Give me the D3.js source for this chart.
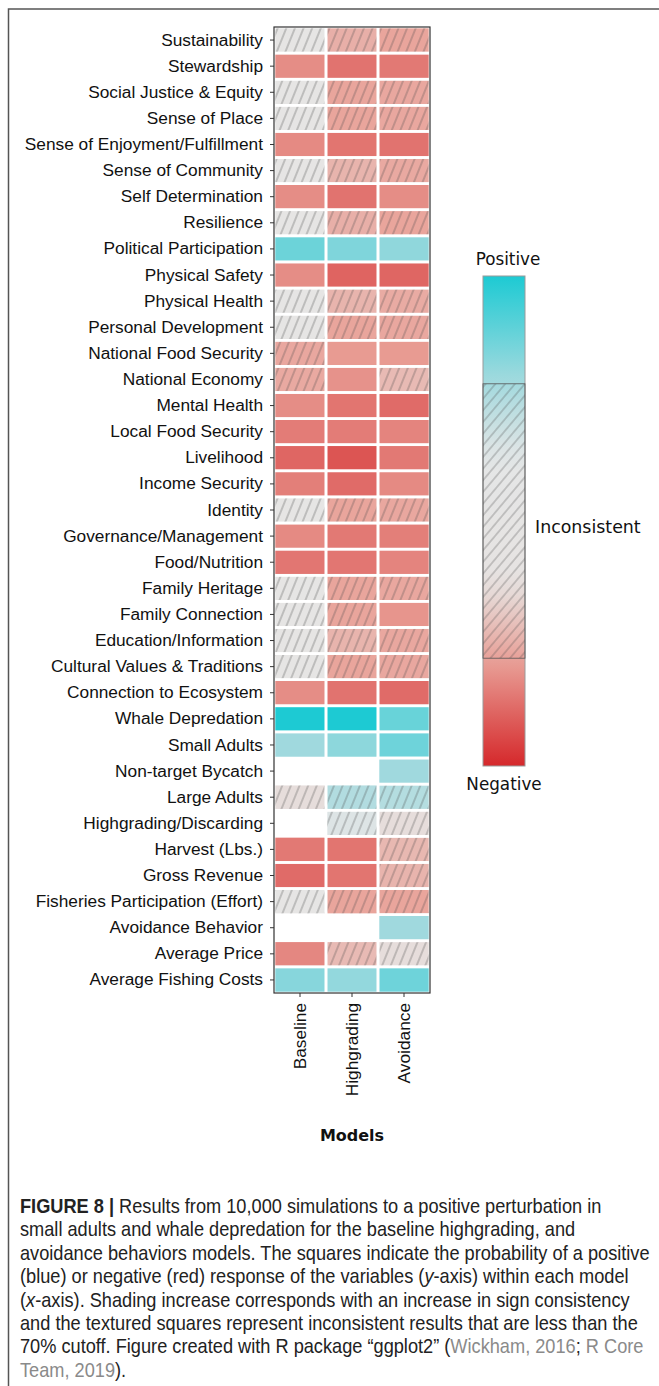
<!DOCTYPE html>
<html><head><meta charset="utf-8">
<script src="https://cdn.jsdelivr.net/npm/d3@7"></script>
<style>body{margin:0;background:#fff;} svg{display:block;}</style>
</head><body>
<script>
// ---- data ----
const variables = [
  "Sustainability","Stewardship","Social Justice & Equity","Sense of Place",
  "Sense of Enjoyment/Fulfillment","Sense of Community","Self Determination","Resilience",
  "Political Participation","Physical Safety","Physical Health","Personal Development",
  "National Food Security","National Economy","Mental Health","Local Food Security",
  "Livelihood","Income Security","Identity","Governance/Management","Food/Nutrition",
  "Family Heritage","Family Connection","Education/Information","Cultural Values & Traditions",
  "Connection to Ecosystem","Whale Depredation","Small Adults","Non-target Bycatch",
  "Large Adults","Highgrading/Discarding","Harvest (Lbs.)","Gross Revenue",
  "Fisheries Participation (Effort)","Avoidance Behavior","Average Price","Average Fishing Costs"
];
const models = ["Baseline","Highgrading","Avoidance"];
// signed sign-consistency: -1 = all negative, +1 = all positive, null = not in model
const baseline = [
  0, -0.64, 0, 0, -0.65, 0, -0.64, 0, 0.745, -0.64, 0, 0,
  -0.54, -0.53, -0.64, -0.70, -0.78, -0.69, 0, -0.65, -0.72,
  0, 0, 0, 0, -0.64, 1.0, 0.58, null, -0.28, null, -0.71, -0.76,
  0, null, -0.66, 0.66
];
const highgrading = [
  -0.50, -0.73, -0.55, -0.55, -0.725, -0.48, -0.73, -0.50, 0.685, -0.785, -0.48, -0.55,
  -0.59, -0.62, -0.725, -0.70, -0.84, -0.76, -0.55, -0.71, -0.72,
  -0.55, -0.55, -0.48, -0.55, -0.73, 1.0, 0.64, null, 0.50, 0.29, -0.725, -0.725,
  -0.55, null, -0.45, 0.62
];
const avoidance = [
  -0.55, -0.71, -0.54, -0.54, -0.73, -0.53, -0.64, -0.55, 0.63, -0.78, -0.52, -0.54,
  -0.59, -0.45, -0.76, -0.67, -0.71, -0.65, -0.54, -0.69, -0.67,
  -0.54, -0.61, -0.54, -0.54, -0.76, 0.76, 0.74, 0.58, 0.49, -0.28, -0.46, -0.48,
  -0.55, 0.58, -0.28, 0.74
];
const legendLabels = ["Positive","Inconsistent","Negative"];
const axisTitle = "Models";
const cutoff = 0.56;
const colorStops = [-1, -0.56, -0.25, 0.25, 0.56, 1];
const colorRange = ["#d5282b", "#e9a39a", "#e6e3e2", "#e5e6e6", "#a6dade", "#1dcad3"];

// ---- layout ----
const W = 659, H = 1386;
const svg = d3.select("body").append("svg").attr("width", W).attr("height", H);

const defs = svg.append("defs");
const hatch = defs.append("pattern").attr("id", "hatch")
  .attr("patternUnits", "userSpaceOnUse").attr("width", 8).attr("height", 8)
  .attr("patternTransform", "rotate(22)");
hatch.append("line").attr("x1", 4).attr("y1", -1).attr("x2", 4).attr("y2", 9)
  .attr("stroke", "#4a4a4a").attr("stroke-width", 0.65).attr("stroke-opacity", 0.8);
const hatchL = defs.append("pattern").attr("id", "hatchL")
  .attr("patternUnits", "userSpaceOnUse").attr("width", 7.5).attr("height", 7.5)
  .attr("patternTransform", "rotate(40)");
hatchL.append("line").attr("x1", 3.75).attr("y1", -1).attr("x2", 3.75).attr("y2", 9)
  .attr("stroke", "#4a4a4a").attr("stroke-width", 0.6).attr("stroke-opacity", 0.8);

// outer frame
svg.append("rect").attr("x", 8.5).attr("y", 9).attr("width", W + 20).attr("height", H + 20)
  .attr("fill", "none").attr("stroke", "#555").attr("stroke-width", 1.5);

const color = d3.scaleLinear().domain(colorStops).range(colorRange)
  .interpolate(d3.interpolateRgb).clamp(true);

const x = d3.scaleBand().domain(models).range([274, 430]).padding(0);
const y = d3.scaleBand().domain(variables).range([27, 993]).padding(0);

const series = [baseline, highgrading, avoidance];
const cells = variables.flatMap((v, i) => models.map((m, j) => ({variable: v, model: m, value: series[j][i]})))
  .filter(d => d.value !== null);

const g = svg.append("g");
g.selectAll("rect.fill").data(cells).join("rect").attr("class", "fill")
  .attr("x", d => x(d.model)).attr("y", d => y(d.variable))
  .attr("width", x.bandwidth()).attr("height", y.bandwidth())
  .attr("fill", d => color(d.value));
g.selectAll("rect.hatch").data(cells.filter(d => Math.abs(d.value) < cutoff)).join("rect").attr("class", "hatch")
  .attr("x", d => x(d.model)).attr("y", d => y(d.variable))
  .attr("width", x.bandwidth()).attr("height", y.bandwidth())
  .attr("fill", "url(#hatch)");
g.selectAll("rect.edge").data(cells).join("rect").attr("class", "edge")
  .attr("x", d => x(d.model)).attr("y", d => y(d.variable))
  .attr("width", x.bandwidth()).attr("height", y.bandwidth())
  .attr("fill", "none").attr("stroke", "#fff").attr("stroke-width", 2.6);

// panel border
svg.append("rect").attr("x", 274).attr("y", 27).attr("width", 156).attr("height", 966)
  .attr("fill", "none").attr("stroke", "#333").attr("stroke-width", 1.2);

// axes
const yAxis = svg.append("g").attr("transform", "translate(274,0)")
  .call(d3.axisLeft(y).tickSize(4).tickPadding(7));
yAxis.select(".domain").remove();
yAxis.selectAll("line").attr("stroke", "#333");
yAxis.selectAll("text").attr("font-family", "Liberation Sans, Arial, sans-serif")
  .attr("font-size", 17.3).attr("fill", "#111");

const xAxis = svg.append("g").attr("transform", "translate(0,993)")
  .call(d3.axisBottom(x).tickSize(4).tickPadding(0));
xAxis.select(".domain").remove();
xAxis.selectAll("line").attr("stroke", "#333");
xAxis.selectAll("text")
  .attr("font-family", "Liberation Sans, Arial, sans-serif").attr("font-size", 17.3).attr("fill", "#111")
  .attr("text-anchor", "end").attr("x", 0).attr("y", 0).attr("dy", "0.36em")
  .attr("transform", "translate(0,10) rotate(-90)");

svg.append("text").attr("x", 352).attr("y", 1141).attr("text-anchor", "middle")
  .attr("font-family", "DejaVu Sans, Verdana, sans-serif").attr("font-weight", "bold")
  .attr("font-size", 16).attr("fill", "#111").text(axisTitle);

// legend
const lx = 483, lw = 42, ly0 = 276, ly1 = 766;
const ls = d3.scaleLinear().domain([1, -1]).range([ly0, ly1]);
const grad = defs.append("linearGradient").attr("id", "lgrad")
  .attr("x1", 0).attr("y1", 0).attr("x2", 0).attr("y2", 1);
d3.range(0, 1.0001, 0.05).forEach(t => {
  const v = 1 - 2 * t;
  grad.append("stop").attr("offset", t).attr("stop-color", color(v));
});
svg.append("rect").attr("x", lx).attr("y", ly0).attr("width", lw).attr("height", ly1 - ly0)
  .attr("fill", "url(#lgrad)").attr("stroke", "#9a9a9a").attr("stroke-width", 1);
svg.append("rect").attr("x", lx).attr("y", ls(cutoff)).attr("width", lw).attr("height", ls(-cutoff) - ls(cutoff))
  .attr("fill", "url(#hatchL)").attr("stroke", "#555").attr("stroke-width", 0.8);

const lf = "DejaVu Sans, Verdana, sans-serif";
svg.append("text").attr("x", 508).attr("y", 265).attr("text-anchor", "middle")
  .attr("font-family", lf).attr("font-size", 16.8).attr("fill", "#111").text(legendLabels[0]);
svg.append("text").attr("x", 535).attr("y", 533).attr("text-anchor", "start")
  .attr("font-family", lf).attr("font-size", 17.4).attr("fill", "#111").text(legendLabels[1]);
svg.append("text").attr("x", 504).attr("y", 790).attr("text-anchor", "middle")
  .attr("font-family", lf).attr("font-size", 16.8).attr("fill", "#111").text(legendLabels[2]);

// caption
const G = "#8a8a8a";
const captionLines = [
  [["FIGURE 8 | ", "b"], ["Results from 10,000 simulations to a positive perturbation in"]],
  [["small adults and whale depredation for the baseline highgrading, and"]],
  [["avoidance behaviors models. The squares indicate the probability of a positive"]],
  [["(blue) or negative (red) response of the variables ("], ["y", "i"], ["-axis) within each model"]],
  [["("], ["x", "i"], ["-axis). Shading increase corresponds with an increase in sign consistency"]],
  [["and the textured squares represent inconsistent results that are less than the"]],
  [["70% cutoff. Figure created with R package \u201cggplot2\u201d ("], ["Wickham, 2016", "g"], ["; "], ["R Core", "g"]],
  [["Team, 2019", "g"], [")."]]
];
const cap = svg.append("g").attr("font-family", "Liberation Sans, Arial, sans-serif")
  .attr("font-size", 20).attr("fill", "#222");
captionLines.forEach((segs, i) => {
  const t = cap.append("text").attr("x", 0).attr("y", 0)
    .attr("transform", `translate(20,${1213 + i * 23.4}) scale(0.91,1)`);
  segs.forEach(([s, st]) => {
    const ts = t.append("tspan").text(s);
    if (st === "b") ts.attr("font-weight", "bold");
    if (st === "i") ts.attr("font-style", "italic");
    if (st === "g") ts.attr("fill", G);
  });
});
</script>
</body></html>
